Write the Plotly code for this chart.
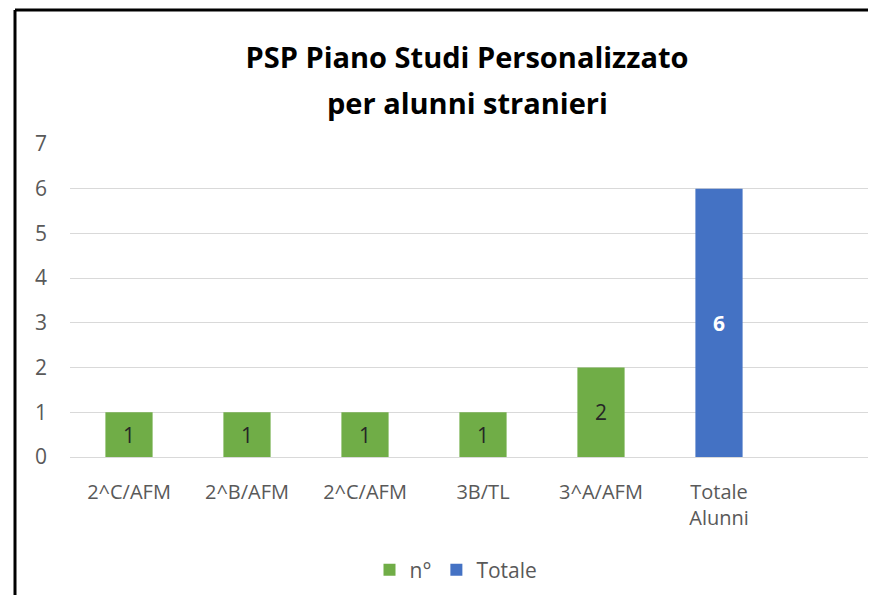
import plotly.graph_objects as go

categories = ["2^C/AFM", "2^B/AFM", "2^C/AFM", "3B/TL", "3^A/AFM", "Totale<br>Alunni"]
n_values = [1, 1, 1, 1, 2]
totale_values = [6]
y_ticks = [0, 1, 2, 3, 4, 5, 6, 7]
title_lines = ["PSP Piano Studi Personalizzato", "per alunni stranieri"]

GREEN = "#70AD47"
BLUE = "#4472C4"
FONT = "'Open Sans', Lato, sans-serif"

pos = list(range(len(categories)))

# page offset caused by the default 8px body margin
OFF = 8
W, H = 876 - OFF, 603 - 2 * OFF
L = 70 - OFF
T = 144 - OFF
B = H - (457 - OFF)
pw = W - L
ph = H - T - B

def px_x(p):
    return (p - OFF - L) / pw

def px_y(p):
    return (H - B - (p - OFF)) / ph

fig = go.Figure()
fig.add_trace(go.Bar(
    x=pos[:len(n_values)], y=n_values, name="n°",
    marker=dict(color=GREEN, line=dict(width=0)), width=0.4,
    text=[str(v) for v in n_values], textposition="inside",
    insidetextanchor="middle", textangle=0,
    textfont=dict(family=FONT, size=21, color="#262626"),
))
fig.add_trace(go.Bar(
    x=pos[len(n_values):], y=totale_values, name="Totale",
    marker=dict(color=BLUE, line=dict(width=0)), width=0.4,
    text=[f"<b>{v}</b>" for v in totale_values], textposition="inside",
    insidetextanchor="middle", textangle=0,
    textfont=dict(family=FONT, size=21, color="white"),
))

fig.update_layout(
    width=W, height=H,
    margin=dict(l=L, r=0, t=T, b=B),
    paper_bgcolor="white", plot_bgcolor="white",
    barmode="overlay",
    font=dict(family=FONT, color="#595959", size=21),
    title=dict(
        text=f"<b>{title_lines[0]}</b>",
        x=(467 - OFF) / W, xanchor="center", y=1 - (58 - OFF) / H, yanchor="middle",
        font=dict(family=FONT, size=29, color="#000000"),
    ),
    annotations=[dict(
        text=f"<b>{title_lines[1]}</b>", xref="paper", yref="paper",
        x=px_x(467), xanchor="center", y=px_y(103), yanchor="middle",
        showarrow=False, font=dict(family=FONT, size=29, color="#000000"),
    )],
    xaxis=dict(
        tickmode="array", tickvals=pos, ticktext=categories,
        range=[-0.5, 5.5 + (876 - 778) / 118],
        showgrid=False, zeroline=False, showline=False, ticks="",
        ticklabelstandoff=21,
        tickfont=dict(family=FONT, size=20, color="#595959"),
    ),
    yaxis=dict(
        range=[0, 7], tickvals=y_ticks, showgrid=True, gridcolor="#D9D9D9",
        gridwidth=1, zeroline=True, zerolinecolor="#D9D9D9", zerolinewidth=1,
        showline=False, ticks="", ticklabelstandoff=22,
        tickfont=dict(family=FONT, size=21, color="#595959"),
    ),
    legend=dict(
        orientation="h", x=px_x(456), xanchor="center",
        y=px_y(570), yanchor="middle",
        font=dict(family=FONT, size=21, color="#595959"),
        itemwidth=30, traceorder="normal",
    ),
    shapes=[
        dict(type="line", xref="paper", yref="paper",
             x0=px_x(15), x1=px_x(890), y0=px_y(10), y1=px_y(10),
             line=dict(color="black", width=3)),
        dict(type="line", xref="paper", yref="paper",
             x0=px_x(15), x1=px_x(15), y0=px_y(10), y1=px_y(620),
             line=dict(color="black", width=3)),
    ],
)

fig.write_html("out.html")
